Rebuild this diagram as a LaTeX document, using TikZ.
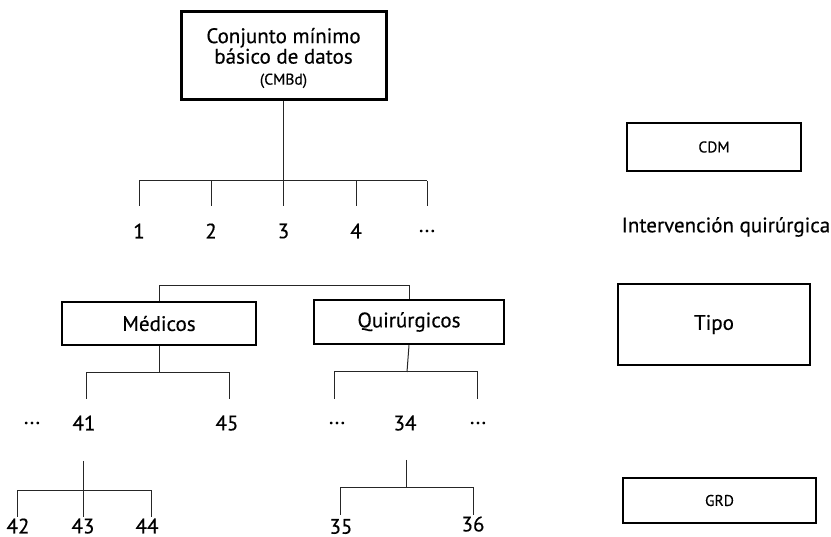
\documentclass[tikz,border=0pt]{standalone}
\usepackage{fontspec}
\setmainfont{PT Sans}[FakeBold=0.4]
\begin{document}
\begin{tikzpicture}[x=1pt,y=-1pt,
  box/.style={draw=black, line width=2.5pt, inner sep=0pt, align=center, font=\fontsize{21}{23}\selectfont},
  smallbox/.style={box, line width=2pt, font=\fontsize{15.5}{18}\selectfont},
  lbl/.style={inner sep=0pt, font=\fontsize{21}{23}\selectfont},
  wire/.style={draw=black!85, line width=1pt}]
\useasboundingbox (0,0) rectangle (831,537);

% root of the classification
\node[box, line width=3pt, minimum width=205, minimum height=88] (cmbd) at (283.5,56) {};
\node[lbl, align=center] (cmbdtxt) at (283.5,58)
  {Conjunto mínimo\\[-2.5pt]básico de datos\\[-2pt]{\fontsize{15.5}{18}\selectfont(CMBd)}};

% first level: 1 2 3 4 ...
\coordinate (t) at (283.5,181);
\foreach \i/\x in {1/139, 2/211, 3/283.5, 4/356, 5/427}{
  \coordinate (b\i) at (\x,181);
  \coordinate (e\i) at (\x,206);
  \draw[wire] (b\i) -- (e\i);
}
\node[lbl] (n1) at (139,231) {1};
\node[lbl] (n2) at (211,231) {2};
\node[lbl] (n3) at (283.5,231) {3};
\node[lbl] (n4) at (356,231) {4};
\node[lbl] (n5) at (427,231) {...};
\draw[wire] (cmbd.south) -- (t);
\draw[wire] (b1) -- (b5);

% Médicos / Quirúrgicos
\node[box, minimum width=194, minimum height=43] (med) at (159,323.5) {Médicos};
\node[box, minimum width=190, minimum height=44] (qui) at (409,322) {Quirúrgicos};
\draw[wire] (med.north) -- ++(0,-15) -| (qui.north);

% children of Médicos
\coordinate (mj) at (159,373);
\coordinate (ml) at (86,373);
\coordinate (mr) at (229,373);
\coordinate (mle) at (86,399);
\coordinate (mre) at (229,399);
\draw[wire] (med.south) -- (mj);
\draw[wire] (mle) -- (ml) -- (mr) -- (mre);
\node[lbl] (md) at (32,423) {...};
\node[lbl] (m41) at (84,423) {41};
\node[lbl] (m45) at (227,423) {45};

% children of Quirúrgicos
\coordinate (qj) at (407,372);
\coordinate (ql) at (334,372);
\coordinate (qr) at (477,372);
\coordinate (qle) at (334,399);
\coordinate (qre) at (477,399);
\draw[wire] (qui.south) -- (qj);
\draw[wire] (qle) -- (ql) -- (qr) -- (qre);
\node[lbl] (qd1) at (337,423) {...};
\node[lbl] (q34) at (405,423) {34};
\node[lbl] (qd2) at (478,423) {...};

% subtree under 41
\coordinate (s41t) at (83,461);
\coordinate (s41b) at (83,517);
\coordinate (s41l) at (17,491);
\coordinate (s41r) at (151,491);
\coordinate (s41le) at (17,517);
\coordinate (s41re) at (151,517);
\draw[wire] (s41t) -- (s41b);
\draw[wire] (s41le) -- (s41l) -- (s41r) -- (s41re);
\node[lbl] (m42) at (18,526) {42};
\node[lbl] (m43) at (83,526) {43};
\node[lbl] (m44) at (147,526) {44};

% subtree under 34
\coordinate (s34t) at (406,460);
\coordinate (s34j) at (406,488);
\coordinate (s34l) at (340,488);
\coordinate (s34r) at (473,488);
\coordinate (s34le) at (340,515);
\coordinate (s34re) at (473,515);
\draw[wire] (s34t) -- (s34j);
\draw[wire] (s34le) -- (s34l) -- (s34r) -- (s34re);
\node[lbl] (q35) at (341,526.5) {35};
\node[lbl] (q36) at (473,524) {36};

% legend on the right
\node[smallbox, minimum width=174, minimum height=48] (cdm) at (714,147) {CDM};
\node[lbl] (iq) at (726,227) {Intervención quirúrgica};
\node[box, minimum width=192, minimum height=81] (tipo) at (714,324.5) {Tipo};
\node[smallbox, minimum width=193, minimum height=45] (grd) at (719.5,500.5) {GRD};
\end{tikzpicture}
\end{document}
